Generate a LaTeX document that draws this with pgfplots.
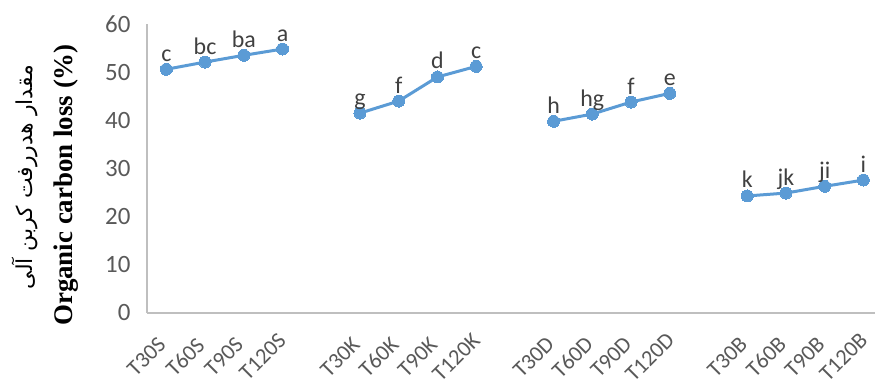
\documentclass[border=0pt]{standalone}
\usepackage{pgfplots}
\pgfplotsset{compat=1.18}
\usepackage{fontspec}
\setmainfont{Carlito}
\newfontfamily\arabicfont[Script=Arabic]{DejaVu Sans}
\newfontfamily\timesfont{Liberation Serif}
\TeXXeTstate=1
\definecolor{xlblue}{HTML}{5B9BD5}
\definecolor{ticktxt}{HTML}{595959}
\definecolor{lbltxt}{HTML}{404040}
\definecolor{axgray}{HTML}{BFBFBF}
\begin{document}
\begin{tikzpicture}
\begin{axis}[
 at={(0,0)}, anchor=south west,
 scale only axis, width=728bp, height=289bp,
 xmin=-0.5, xmax=18.3, ymin=0, ymax=60,
 axis lines=left,
 axis line style={axgray, line width=1.5bp, -},
 xtick={0,1,2,3,5,6,7,8,10,11,12,13,15,16,17,18},
 xticklabels={T30S,T60S,T90S,T120S,T30K,T60K,T90K,T120K,T30D,T60D,T90D,T120D,T30B,T60B,T90B,T120B},
 ytick={0,10,...,60},
 major tick length=0pt,
 tick style={draw=none},
 xticklabel style={xshift=-20bp, yshift=-44bp, rotate=45, anchor=center, font=\fontsize{22.5}{24}\selectfont, text=ticktxt, inner sep=0bp},
 yticklabel style={font=\fontsize{25}{26}\selectfont, text=ticktxt, xshift=-13bp},
 /pgf/number format/assume math mode=true,
 ser/.style={xlblue, line width=3bp, mark=*, mark size=6bp, mark options={fill=xlblue, draw=xlblue, line width=0pt}},
 nodes near coords, point meta=explicit symbolic,
 every node near coord/.append style={font=\fontsize{24}{25}\selectfont, text=lbltxt, anchor=south, inner sep=0pt, text depth=0pt, yshift=8bp},
 clip=false,
]
\addplot[ser] coordinates {(0,50.6) [c] (1,52.1) [bc] (2,53.5) [ba] (3,54.8) [a]};
\addplot[ser] coordinates {(5,41.5) [g] (6,44.0) [f] (7,49.0) [d] (8,51.2) [c]};
\addplot[ser] coordinates {(10,39.8) [h] (11,41.3) [hg] (12,43.8) [f] (13,45.6) [e]};
\addplot[ser] coordinates {(15,24.3) [k] (16,24.9) [jk] (17,26.3) [ji] (18,27.6) [i]};
\end{axis}
\node[rotate=90, font=\arabicfont\fontsize{22}{24}\selectfont, text=black] at (-122bp,136bp) {\beginR مقدار هدررفت کربن آلی\endR};
\node[rotate=90, font=\timesfont\bfseries\fontsize{27}{29}\selectfont, text=black] at (-81bp,128bp) {Organic carbon loss (\%)};
\pgfresetboundingbox
\path[use as bounding box] (-147bp,-74bp) rectangle (728bp,313bp);
\end{tikzpicture}
\end{document}
